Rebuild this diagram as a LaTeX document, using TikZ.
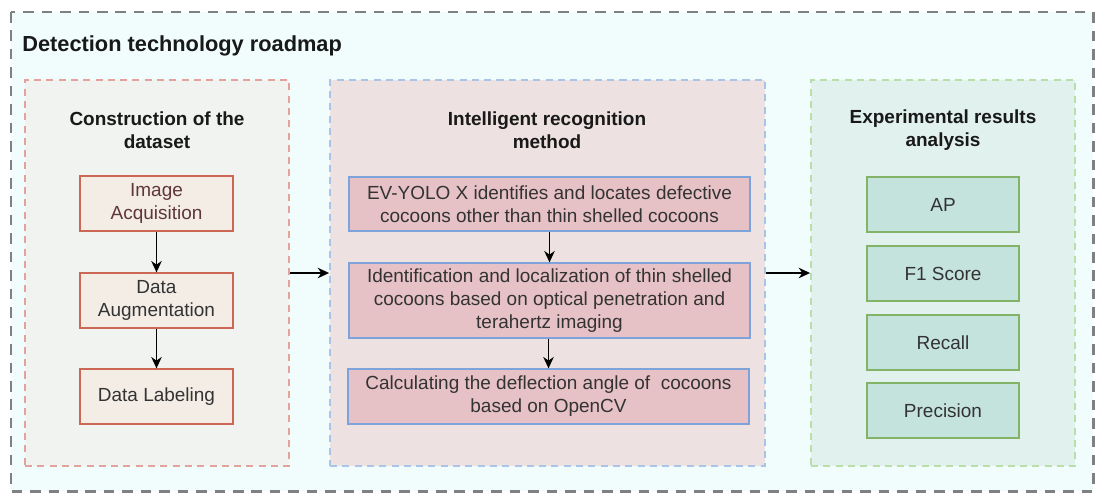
\documentclass[tikz,border=0pt]{standalone}
\usepackage{fontspec}
\setmainfont{Liberation Sans}
\usepackage{tikz}
\usetikzlibrary{arrows.meta,positioning}
\definecolor{fondo}{HTML}{F1FDFD}
\definecolor{rojoborde}{HTML}{E3A39C}
\definecolor{rojofondo}{HTML}{F0F3EF}
\definecolor{azulborde}{HTML}{A9C4E6}
\definecolor{azulfondo}{HTML}{EDE1E1}
\definecolor{verdeborde}{HTML}{B9DEA8}
\definecolor{verdefondo}{HTML}{E1F2EE}
\definecolor{pasofill}{HTML}{F3EDE6}
\definecolor{pasodraw}{HTML}{CC6655}
\definecolor{metodofill}{HTML}{E6C1C5}
\definecolor{metododraw}{HTML}{7EA3DA}
\definecolor{metricafill}{HTML}{C4E3DD}
\definecolor{metricadraw}{HTML}{82B366}
\definecolor{texto}{HTML}{333333}
\tikzset{
  marco/.style={draw=gray,fill=fondo,line width=1.7pt,dash pattern=on 6pt off 4.5pt},
  panel/.style={line width=1.1pt,dash pattern=on 4pt off 3pt,minimum height=7.72cm,inner sep=0pt},
  titulo/.style={font=\fontsize{10.8}{13}\selectfont\bfseries,align=center,text=black!90},
  caja/.style={draw,line width=0.75pt,align=center,font=\fontsize{10.8}{13}\selectfont,text=texto,inner sep=0pt},
  paso/.style={caja,fill=pasofill,draw=pasodraw,minimum width=3.06cm,minimum height=1.1cm},
  metodo/.style={caja,fill=metodofill,draw=metododraw,minimum width=8.02cm},
  metrica/.style={caja,fill=metricafill,draw=metricadraw,minimum width=3.04cm,minimum height=1.1cm},
  flecha/.style={-{Stealth[length=6.5pt,width=6pt]},line width=0.8pt,black}
}

\begin{document}
\begin{tikzpicture}[x=0.02cm,y=-0.02cm]
\useasboundingbox (0,0) rectangle (1097,494);
\draw[marco] (11,12) rectangle (1093,491);
\node[anchor=west,font=\fontsize{12.4}{15}\selectfont\bfseries,text=black!90,inner sep=0pt] (rotulo) at (22,46) {Detection technology roadmap};

\node[panel,draw=rojoborde,fill=rojofondo,minimum width=5.28cm] (datos) at (157,273) {};
\node[panel,draw=azulborde,fill=azulfondo,minimum width=8.7cm] (metodos) at (547.5,273) {};
\node[panel,draw=verdeborde,fill=verdefondo,minimum width=5.28cm] (resultados) at (943,273) {};

\node[titulo] (tdatos) at (157,130) {Construction of the\\dataset};
\node[titulo] (tmetodos) at (547,130) {Intelligent recognition\\method};
\node[titulo] (tresultados) at (943,130) {Experimental results\\analysis};

\node[paso,text={rgb,255:red,95;green,55;blue,55}] (adq) at (156.5,203.5) {Image\\Acquisition};
\node[paso] (aum) at (156.5,300.5) {Data\\Augmentation};
\node[paso] (etq) at (156.5,396.5) {Data Labeling};
\draw[flecha] (adq) -- (aum);
\draw[flecha] (aum) -- (etq);

\node[metodo,minimum height=1.08cm] (yolo) at (549.5,204) {EV-YOLO X identifies and locates defective\\cocoons other than thin shelled cocoons};
\node[metodo,minimum height=1.5cm] (thz) at (549.5,300.5) {Identification and localization of thin shelled\\cocoons based on optical penetration and\\terahertz imaging};
\node[metodo,minimum height=1.1cm] (ang) at (548.5,396.5) {Calculating the deflection angle of~ cocoons\\based on OpenCV};
\draw[flecha] (yolo) -- (yolo|-thz.north);
\draw[flecha] (thz.south -| ang) -- (ang);

\foreach \m/\t/\yy in {ap/AP/204.5,funo/F1 Score/273.5,rec/Recall/342.5,prec/Precision/410.5}
  \node[metrica] (\m) at (943,\yy) {\t};

\draw[flecha] (datos.east) -- (metodos.west);
\draw[flecha] (metodos.east) -- (resultados.west);
\end{tikzpicture}
\end{document}
